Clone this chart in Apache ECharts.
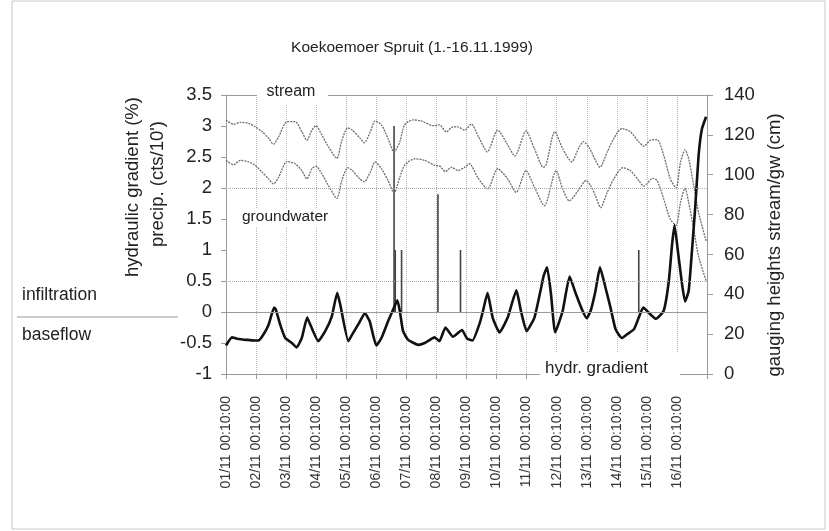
<!DOCTYPE html>
<html>
<head>
<meta charset="utf-8">
<script src="https://cdn.jsdelivr.net/npm/echarts@6/dist/echarts.min.js"></script>
<style>html,body{margin:0;padding:0;background:#fff;}#c{width:829px;height:531px;}</style>
</head>
<body>
<div id="c"></div>
<script>
// ---- data ----
var xLabels = ["01/11 00:10:00","02/11 00:10:00","03/11 00:10:00","04/11 00:10:00","05/11 00:10:00","06/11 00:10:00","07/11 00:10:00","08/11 00:10:00","09/11 00:10:00","10/11 00:10:00","11/11 00:10:00","12/11 00:10:00","13/11 00:10:00","14/11 00:10:00","15/11 00:10:00","16/11 00:10:00"];

// hydraulic gradient (%) – day offset from 01/11 00:10, value
var gradDays = [0.0,0.2,0.36,0.7,0.97,1.08,1.25,1.42,1.6,1.65,1.8,1.97,2.19,2.35,2.52,2.7,2.8,3.07,3.3,3.52,3.7,3.8,4.07,4.2,4.4,4.62,4.78,5.0,5.17,5.39,5.56,5.7,5.78,5.89,6.06,6.4,6.61,6.94,7.1,7.3,7.55,7.85,8.02,8.2,8.44,8.55,8.7,8.87,9.1,9.37,9.66,9.81,10.0,10.26,10.46,10.57,10.68,10.81,10.95,11.2,11.43,11.64,11.86,12.0,12.13,12.29,12.44,12.62,12.79,12.96,13.17,13.34,13.57,13.73,13.88,14.12,14.3,14.56,14.73,14.84,14.92,15.03,15.17,15.27,15.39,15.5,15.61,15.72,15.83,15.97];
var gradVals = [-0.54,-0.41,-0.43,-0.45,-0.46,-0.46,-0.36,-0.2,0.07,0.05,-0.2,-0.42,-0.5,-0.57,-0.42,-0.09,-0.2,-0.47,-0.31,-0.07,0.31,0.12,-0.47,-0.36,-0.2,-0.02,-0.15,-0.54,-0.42,-0.15,0.04,0.19,0.02,-0.31,-0.45,-0.53,-0.5,-0.41,-0.47,-0.25,-0.4,-0.29,-0.43,-0.46,-0.18,0.02,0.31,-0.09,-0.33,-0.09,0.35,0.02,-0.31,-0.09,0.34,0.59,0.72,0.29,-0.33,0.02,0.57,0.29,0.02,-0.1,0.02,0.34,0.72,0.4,0.07,-0.28,-0.42,-0.36,-0.28,-0.09,0.07,-0.04,-0.11,0.02,0.5,1.1,1.4,0.99,0.45,0.17,0.34,0.99,1.7,2.52,2.95,3.15];

// stream gauging height (cm)
var streamDays = [0.0,0.25,0.48,0.75,0.97,1.2,1.42,1.58,1.75,2.03,2.3,2.52,2.69,2.86,2.99,3.19,3.41,3.69,3.85,4.05,4.2,4.45,4.6,4.8,4.96,5.17,5.39,5.59,5.78,5.94,6.22,6.5,6.89,7.1,7.33,7.55,7.72,7.94,8.16,8.4,8.69,9.04,9.33,9.61,9.98,10.26,10.56,10.65,10.94,11.2,11.5,11.75,11.89,12.1,12.29,12.44,12.68,12.9,13.17,13.45,13.73,13.9,14.12,14.34,14.56,14.78,14.97,15.12,15.27,15.39,15.56,15.72,15.97];
var streamVals = [127.5,125.3,126.3,125.8,124.1,121.6,118.2,115.3,119,126.6,126.6,121.6,117.3,122.4,124.6,119.9,114,108.2,117,123.5,122.4,118.5,116,121.6,127,125,118.2,111.4,116.5,125,127.5,127,124.6,125,121.5,124,124,122.4,125.4,119,111.5,122.4,116,109.4,122,113,103.7,105,121.6,113,106.5,114,116.6,113,107.2,103.7,111.4,118.2,123.2,121.6,116.5,114.3,117.3,117.6,109.7,97.9,93.3,106.4,112.5,108,94.5,81,66.8];

// groundwater gauging height (cm)
var gwDays = [0.0,0.25,0.48,0.75,0.97,1.2,1.42,1.58,1.75,2.03,2.3,2.52,2.69,2.86,2.99,3.19,3.41,3.69,3.85,4.05,4.2,4.45,4.6,4.8,4.96,5.17,5.39,5.59,5.78,5.94,6.28,6.61,6.94,7.11,7.3,7.5,7.72,7.94,8.1,8.37,8.7,9.04,9.37,9.65,9.98,10.26,10.59,10.98,11.2,11.42,11.75,11.97,12.13,12.29,12.46,12.68,12.9,13.2,13.45,13.73,13.9,14.2,14.34,14.56,14.78,14.97,15.12,15.27,15.39,15.56,15.72,15.97];
var gwVals = [107.2,105,107.2,106.4,104.7,101.3,97.9,95.4,98.7,106.7,105.5,102.1,97.9,103,104.3,100.4,94.5,88.1,97,103.5,102.1,97.9,96.5,101.3,106.4,103,97.1,90.8,98.7,104.7,108,107.2,104.7,104.3,101.6,103.8,102.1,103.7,105.5,98.7,92.8,103,97.9,91.1,102.1,93.7,84.4,102.1,92.8,86.9,92.8,97.1,94.5,89.4,83.5,91.1,97.9,103.5,102.1,97.1,94.3,98.2,97.1,87.8,77.6,74.6,86.1,93.2,86.1,72.5,59,46.8];

// precipitation (cts/10')
var precDays = [5.59,5.63,5.84,7.05,7.8,13.73];
var precVals = [3.0,1.0,1.0,1.9,1.0,1.0];

// ---- helpers ----
function pairs(xs, ys){ return xs.map(function(x,i){ return [x, ys[i]]; }); }

var FONT = '"Liberation Sans", Arial, Helvetica, sans-serif';
var chart = echarts.init(document.getElementById('c'), null, {renderer:'canvas'});

var option = {
  animation: false,
  backgroundColor: '#fff',
  grid: {left: 226, right: 122, top: 95, bottom: 157, containLabel: false},
  xAxis: {
    type: 'value', min: 0, max: 16, interval: 1,
    axisLine: {show: true, onZero: false, lineStyle: {color: '#9a9a9a', width: 1}},
    axisTick: {show: true, length: 5, lineStyle: {color: '#9a9a9a'}},
    splitLine: {show: true, lineStyle: {color: '#b8b8b8', type: 'dotted', width: 1}},
    axisLabel: {
      rotate: 90, margin: 22, fontSize: 14, color: '#333', fontFamily: FONT,
      formatter: function(v){ var i = Math.round(v); return (i >= 0 && i < xLabels.length) ? xLabels[i] : ''; }
    }
  },
  yAxis: [{
    type: 'value', min: -1, max: 3.5, interval: 0.5, position: 'left',
    axisLine: {show: true, lineStyle: {color: '#9a9a9a'}},
    axisTick: {show: true, length: 5, lineStyle: {color: '#9a9a9a'}},
    splitLine: {show: false},
    axisLabel: {margin: 14, fontSize: 18.5, color: '#222', fontFamily: FONT}
  }, {
    type: 'value', min: 0, max: 140, interval: 20, position: 'right',
    axisLine: {show: true, lineStyle: {color: '#9a9a9a'}},
    axisTick: {show: true, length: 6, lineStyle: {color: '#9a9a9a'}},
    splitLine: {show: false},
    axisLabel: {margin: 17, fontSize: 18.5, color: '#222', fontFamily: FONT}
  }],
  series: [{
    name: 'precip', type: 'bar', yAxisIndex: 0, barWidth: 1.6,
    itemStyle: {color: '#444'},
    data: pairs(precDays, precVals), z: 2
  }, {
    name: 'stream', type: 'line', yAxisIndex: 1, showSymbol: false, smooth: 0.25,
    lineStyle: {color: '#6e6e6e', width: 1.3, type: [2, 1]}, data: pairs(streamDays, streamVals), z: 3
  }, {
    name: 'groundwater', type: 'line', yAxisIndex: 1, showSymbol: false, smooth: 0.25,
    lineStyle: {color: '#6e6e6e', width: 1.3, type: [2, 1]}, data: pairs(gwDays, gwVals), z: 3
  }, {
    name: 'hydr. gradient', type: 'line', yAxisIndex: 0, showSymbol: false, smooth: 0.15,
    lineStyle: {color: '#111', width: 2.6}, data: pairs(gradDays, gradVals), z: 4,
    markLine: {
      silent: true, symbol: 'none', label: {show: false}, animation: false,
      data: [
        {yAxis: 0.5, lineStyle: {type: 'dotted', color: '#aaa', width: 1}},
        {yAxis: 2, lineStyle: {type: 'dotted', color: '#aaa', width: 1}},
        {yAxis: 0, lineStyle: {type: 'solid', color: '#9a9a9a', width: 1}},
        {yAxis: 3.5, lineStyle: {type: 'solid', color: '#9a9a9a', width: 1}}
      ]
    }
  }],
  graphic: [
    {type: 'rect', shape: {x: 12, y: 1, width: 813, height: 528}, style: {fill: 'none', stroke: '#c8c8c8', lineWidth: 1}, z: 0, silent: true},
    {type: 'text', x: 412, y: 48, style: {text: 'Koekoemoer Spruit (1.-16.11.1999)', font: '15.5px ' + FONT, fill: '#222', textAlign: 'center', textVerticalAlign: 'middle'}},
    {type: 'text', x: 133, y: 187, rotation: Math.PI/2, style: {text: 'hydraulic gradient (%)', font: '18.5px ' + FONT, fill: '#222', textAlign: 'center', textVerticalAlign: 'middle'}},
    {type: 'text', x: 158, y: 184, rotation: Math.PI/2, style: {text: "precip. (cts/10')", font: '18.5px ' + FONT, fill: '#222', textAlign: 'center', textVerticalAlign: 'middle'}},
    {type: 'text', x: 775, y: 245, rotation: Math.PI/2, style: {text: 'gauging heights stream/gw (cm)', font: '18.5px ' + FONT, fill: '#222', textAlign: 'center', textVerticalAlign: 'middle'}},
    {type: 'line', shape: {x1: 17, y1: 317, x2: 178, y2: 317}, style: {stroke: '#999', lineWidth: 1}},
    {type: 'text', x: 22, y: 295, style: {text: 'infiltration', font: '17.5px ' + FONT, fill: '#222', textAlign: 'left', textVerticalAlign: 'middle'}},
    {type: 'text', x: 22, y: 335, style: {text: 'baseflow', font: '17.5px ' + FONT, fill: '#222', textAlign: 'left', textVerticalAlign: 'middle'}},
    {type: 'rect', shape: {x: 257, y: 84, width: 71, height: 21}, style: {fill: '#fff'}, z: 10},
    {type: 'text', x: 291, y: 92, z: 11, style: {text: 'stream', font: '16px ' + FONT, fill: '#222', textAlign: 'center', textVerticalAlign: 'middle'}},
    {type: 'rect', shape: {x: 240, y: 208, width: 90, height: 19}, style: {fill: '#fff'}, z: 10},
    {type: 'text', x: 242, y: 217, z: 11, style: {text: 'groundwater', font: '15.5px ' + FONT, fill: '#222', textAlign: 'left', textVerticalAlign: 'middle'}},
    {type: 'rect', shape: {x: 540, y: 352, width: 140, height: 34}, style: {fill: '#fff'}, z: 10},
    {type: 'text', x: 545, y: 368, z: 11, style: {text: 'hydr. gradient', font: '17px ' + FONT, fill: '#222', textAlign: 'left', textVerticalAlign: 'middle'}}
  ]
};
chart.setOption(option);
</script>
</body>
</html>
